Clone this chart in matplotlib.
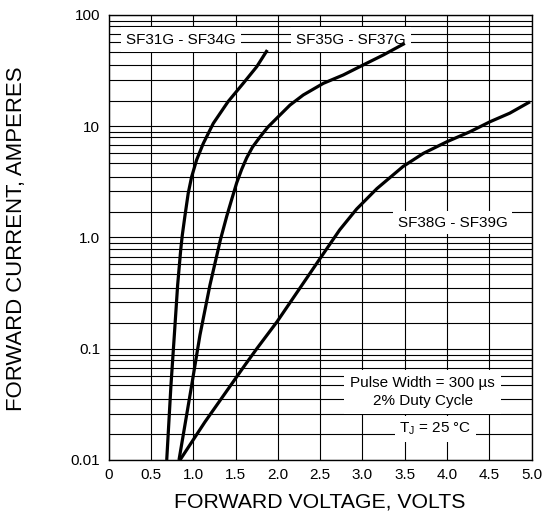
import matplotlib.pyplot as plt
from matplotlib.ticker import NullFormatter
import numpy as np

plt.rcParams['font.family'] = ['Liberation Sans', 'DejaVu Sans']
plt.rcParams['mathtext.fontset'] = 'custom'
plt.rcParams['mathtext.rm'] = 'Liberation Sans'
plt.rcParams['mathtext.default'] = 'regular'

# forward voltage (V) / forward current (A)
v_sf31 = [0.686, 0.736, 0.776, 0.815, 0.851, 0.87, 0.90, 0.94, 0.98, 1.04,
          1.118, 1.236, 1.41, 1.59, 1.75, 1.875]
i_sf31 = [0.01, 0.047, 0.133, 0.374, 0.77, 1.05, 1.54, 2.5, 3.5, 5.0,
          7.0, 10.6, 16.6, 24.3, 34.3, 48.4]

v_sf35 = [0.831, 0.981, 1.079, 1.197, 1.32, 1.395, 1.454, 1.513, 1.572, 1.631,
          1.70, 1.788, 1.88, 1.986, 2.143, 2.30, 2.537, 2.773, 3.01, 3.246, 3.50]
i_sf35 = [0.01, 0.047, 0.133, 0.374, 0.95, 1.55, 2.2, 3.1, 4.1, 5.2,
          6.5, 8.0, 9.8, 11.8, 15.5, 19.1, 24.3, 28.9, 35.6, 43.7, 55.6]

v_sf38 = [0.843, 1.138, 1.611, 1.75, 1.99, 2.5, 2.73, 2.93, 3.17, 3.48,
          3.72, 4.0, 4.27, 4.51, 4.74, 4.98]
i_sf38 = [0.01, 0.022, 0.0714, 0.1, 0.175, 0.65, 1.17, 1.8, 2.75, 4.35,
          5.71, 7.27, 8.92, 11.0, 13.1, 16.6]

x_ticks = [0, 0.5, 1.0, 1.5, 2.0, 2.5, 3.0, 3.5, 4.0, 4.5, 5.0]
x_labels = ["0", "0.5", "1.0", "1.5", "2.0", "2.5", "3.0", "3.5", "4.0", "4.5", "5.0"]
y_ticks = [0.01, 0.1, 1, 10, 100]
y_labels = ["0.01", "0.1", "1.0", "10", "100"]

# the printed sheet puts its 9..2 lines a bit off true log spacing
# (fraction of a decade below each decade line)
grid_fracs = [0.052, 0.10, 0.171, 0.241, 0.33, 0.452, 0.583, 0.77]

fig = plt.figure(figsize=(5.44, 5.15), dpi=100)
ax = fig.add_axes([0.1998, 0.1068, 0.7776, 0.8641])

for v, i in [(v_sf31, i_sf31), (v_sf35, i_sf35), (v_sf38, i_sf38)]:
    ax.plot(v, i, color='black', lw=2.3, zorder=4, solid_capstyle='butt',
            solid_joinstyle='round')

ax.set_yscale('log')
ax.set_xlim(0, 5)
ax.set_ylim(0.01, 100)

ax.set_xticks(x_ticks)
ax.set_xticklabels(x_labels)
ax.set_yticks(y_ticks)
ax.set_yticklabels(y_labels)
minor = [d * 10 * 10 ** (-f) for d in y_ticks[:-1] for f in grid_fracs]
ax.set_yticks(minor, minor=True)
ax.yaxis.set_minor_formatter(NullFormatter())
ax.tick_params(which='both', length=0, labelsize=11)
ax.tick_params(axis='x', pad=5.5)
ax.tick_params(axis='y', pad=6)

ax.grid(True, which='both', color='black', lw=0.8)
ax.set_axisbelow(True)
for s in ax.spines.values():
    s.set_linewidth(1.0)

box = dict(facecolor='white', edgecolor='none', boxstyle='square,pad=0.35')
ax.text(0.855, 55.4, "SF31G - SF34G", ha='center', va='baseline', fontsize=11, bbox=box, zorder=3)
ax.text(2.864, 55.4, "SF35G - SF37G", ha='center', va='baseline', fontsize=11, bbox=box, zorder=3)
ax.text(4.064, 1.25, "SF38G - SF39G", ha='center', va='baseline', fontsize=11,
        bbox=dict(facecolor='white', edgecolor='none', boxstyle='square,pad=0.3'), zorder=3)
ax.text(3.71, 0.0312, "Pulse Width = 300 µs\n2% Duty Cycle", ha='center', va='baseline',
        multialignment='center', fontsize=11, linespacing=1.35,
        bbox=dict(facecolor='white', edgecolor='none', boxstyle='square,pad=0.4'), zorder=3)
ax.text(3.863, 0.0176, r"T$_J$ = 25 °C", ha='center', va='baseline', fontsize=11,
        bbox=dict(facecolor='white', edgecolor='none', boxstyle='square,pad=0.3'), zorder=3)

fig.text(320 / 544, 1 - 502 / 515, "FORWARD VOLTAGE, VOLTS", ha='center', va='center', fontsize=15.3)
fig.text(16.5 / 544, 1 - 239 / 515, "FORWARD CURRENT, AMPERES", ha='center', va='center',
         rotation=90, fontsize=15.9)

fig.savefig('out.png', dpi=100)
